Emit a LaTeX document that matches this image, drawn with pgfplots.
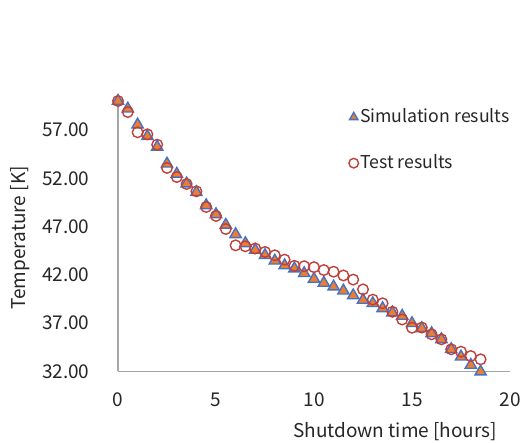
\documentclass[border=0pt]{standalone}
\usepackage{pgfplots}
\usepackage{pgfplotstable}
\pgfplotsset{compat=1.18}
\usepackage{fontspec}
\setmainfont{Noto Sans CJK JP}

\definecolor{simfill}{RGB}{237,125,49}
\definecolor{simedge}{RGB}{68,114,196}
\definecolor{testedge}{RGB}{192,64,58}
\definecolor{axisgray}{RGB}{166,166,166}
\definecolor{labeltext}{RGB}{38,38,38}

% simulated temperature during shutdown
\pgfplotstableread{
t T
0.0 60.00
0.5 59.20
1.0 57.55
1.5 56.35
2.0 55.25
2.5 53.50
3.0 52.45
3.5 51.45
4.0 50.55
4.5 49.20
5.0 48.27
5.5 47.17
6.0 46.20
6.5 45.27
7.0 44.58
7.5 44.03
8.0 43.46
8.5 42.97
9.0 42.65
9.5 42.17
10.0 41.58
10.5 41.16
11.0 40.78
11.5 40.36
12.0 39.87
12.5 39.40
13.0 39.06
13.5 38.54
14.0 38.10
14.5 37.75
15.0 36.99
15.5 36.47
16.0 35.95
16.5 35.33
17.0 34.30
17.5 33.53
18.0 32.67
18.5 31.98
}\simdata

% measured temperature during shutdown
\pgfplotstableread{
t T
0.0 60.00
0.5 58.86
1.0 56.76
1.5 56.55
2.0 55.48
2.5 53.07
3.0 52.13
3.5 51.41
4.0 50.65
4.5 49.03
5.0 48.10
5.5 46.75
6.0 45.06
6.5 44.96
7.0 44.73
7.5 44.37
8.0 44.03
8.5 43.58
9.0 42.94
9.5 42.90
10.0 42.80
10.5 42.50
11.0 42.33
11.5 41.94
12.0 41.51
12.5 40.50
13.0 39.44
13.5 39.06
14.0 38.18
14.5 37.38
15.0 36.53
15.5 36.55
16.0 35.85
16.5 35.33
17.0 34.30
17.5 34.05
18.0 33.60
18.5 33.26
}\testdata

\begin{document}
\fontsize{19bp}{23bp}\selectfont
\begin{tikzpicture}
\useasboundingbox (0,0) rectangle (520bp,443bp);
\begin{axis}[
  at={(118bp,71.5bp)}, anchor=south west,
  scale only axis, width=392bp, height=270.5bp,
  xmin=0, xmax=20, ymin=32, ymax=60,
  axis lines=left,
  axis line style={-, draw=axisgray, line width=1.5bp},
  xtick={0,5,...,20}, ytick={32,37,...,57},
  major tick length=0pt,
  tick label style={font=\fontsize{19bp}{23bp}\selectfont, text=labeltext},
  % labels set in the text font, kept clear of the axis lines
  yticklabel={\pgfmathprintnumber[fixed, fixed zerofill, precision=2, assume math mode=true]{\tick}\rule{22bp}{0pt}},
  xticklabel={\rule{0pt}{28bp}\pgfmathprintnumber[assume math mode=true]{\tick}},
  y tick label style={anchor=east},
  x tick label style={anchor=north},
  label style={font=\fontsize{19bp}{23bp}\selectfont, text=labeltext},
  clip=false,
  xlabel={Shutdown time [hours]},
  ylabel={Temperature [K]},
  xlabel style={at={(axis description cs:0.707,-0.222)}, anchor=center},
  ylabel style={at={(axis description cs:-0.25,0.494)}, anchor=center},
  legend style={draw=none, fill=none, at={(axis description cs:0.581,0.985)}, anchor=north west,
    font=\fontsize{17.7bp}{21bp}\selectfont, text=labeltext, row sep=26bp,
    nodes={inner sep=1.5bp}},
  legend cell align=left,
  legend image code/.code={\draw[#1, mark size=4.8bp] plot coordinates {(0bp,0bp)};},
]
\addplot[only marks, mark=triangle*, mark size=6.5bp,
  mark options={fill=simfill, draw=simedge, line width=1.4bp}] table[x=t, y=T] {\simdata};
\addlegendentry{Simulation results}
\addplot[only marks, mark=o, mark size=5.3bp,
  mark options={draw=testedge, line width=1.4bp}] table[x=t, y=T] {\testdata};
\addlegendentry{Test results}
\end{axis}
\end{tikzpicture}
\end{document}
